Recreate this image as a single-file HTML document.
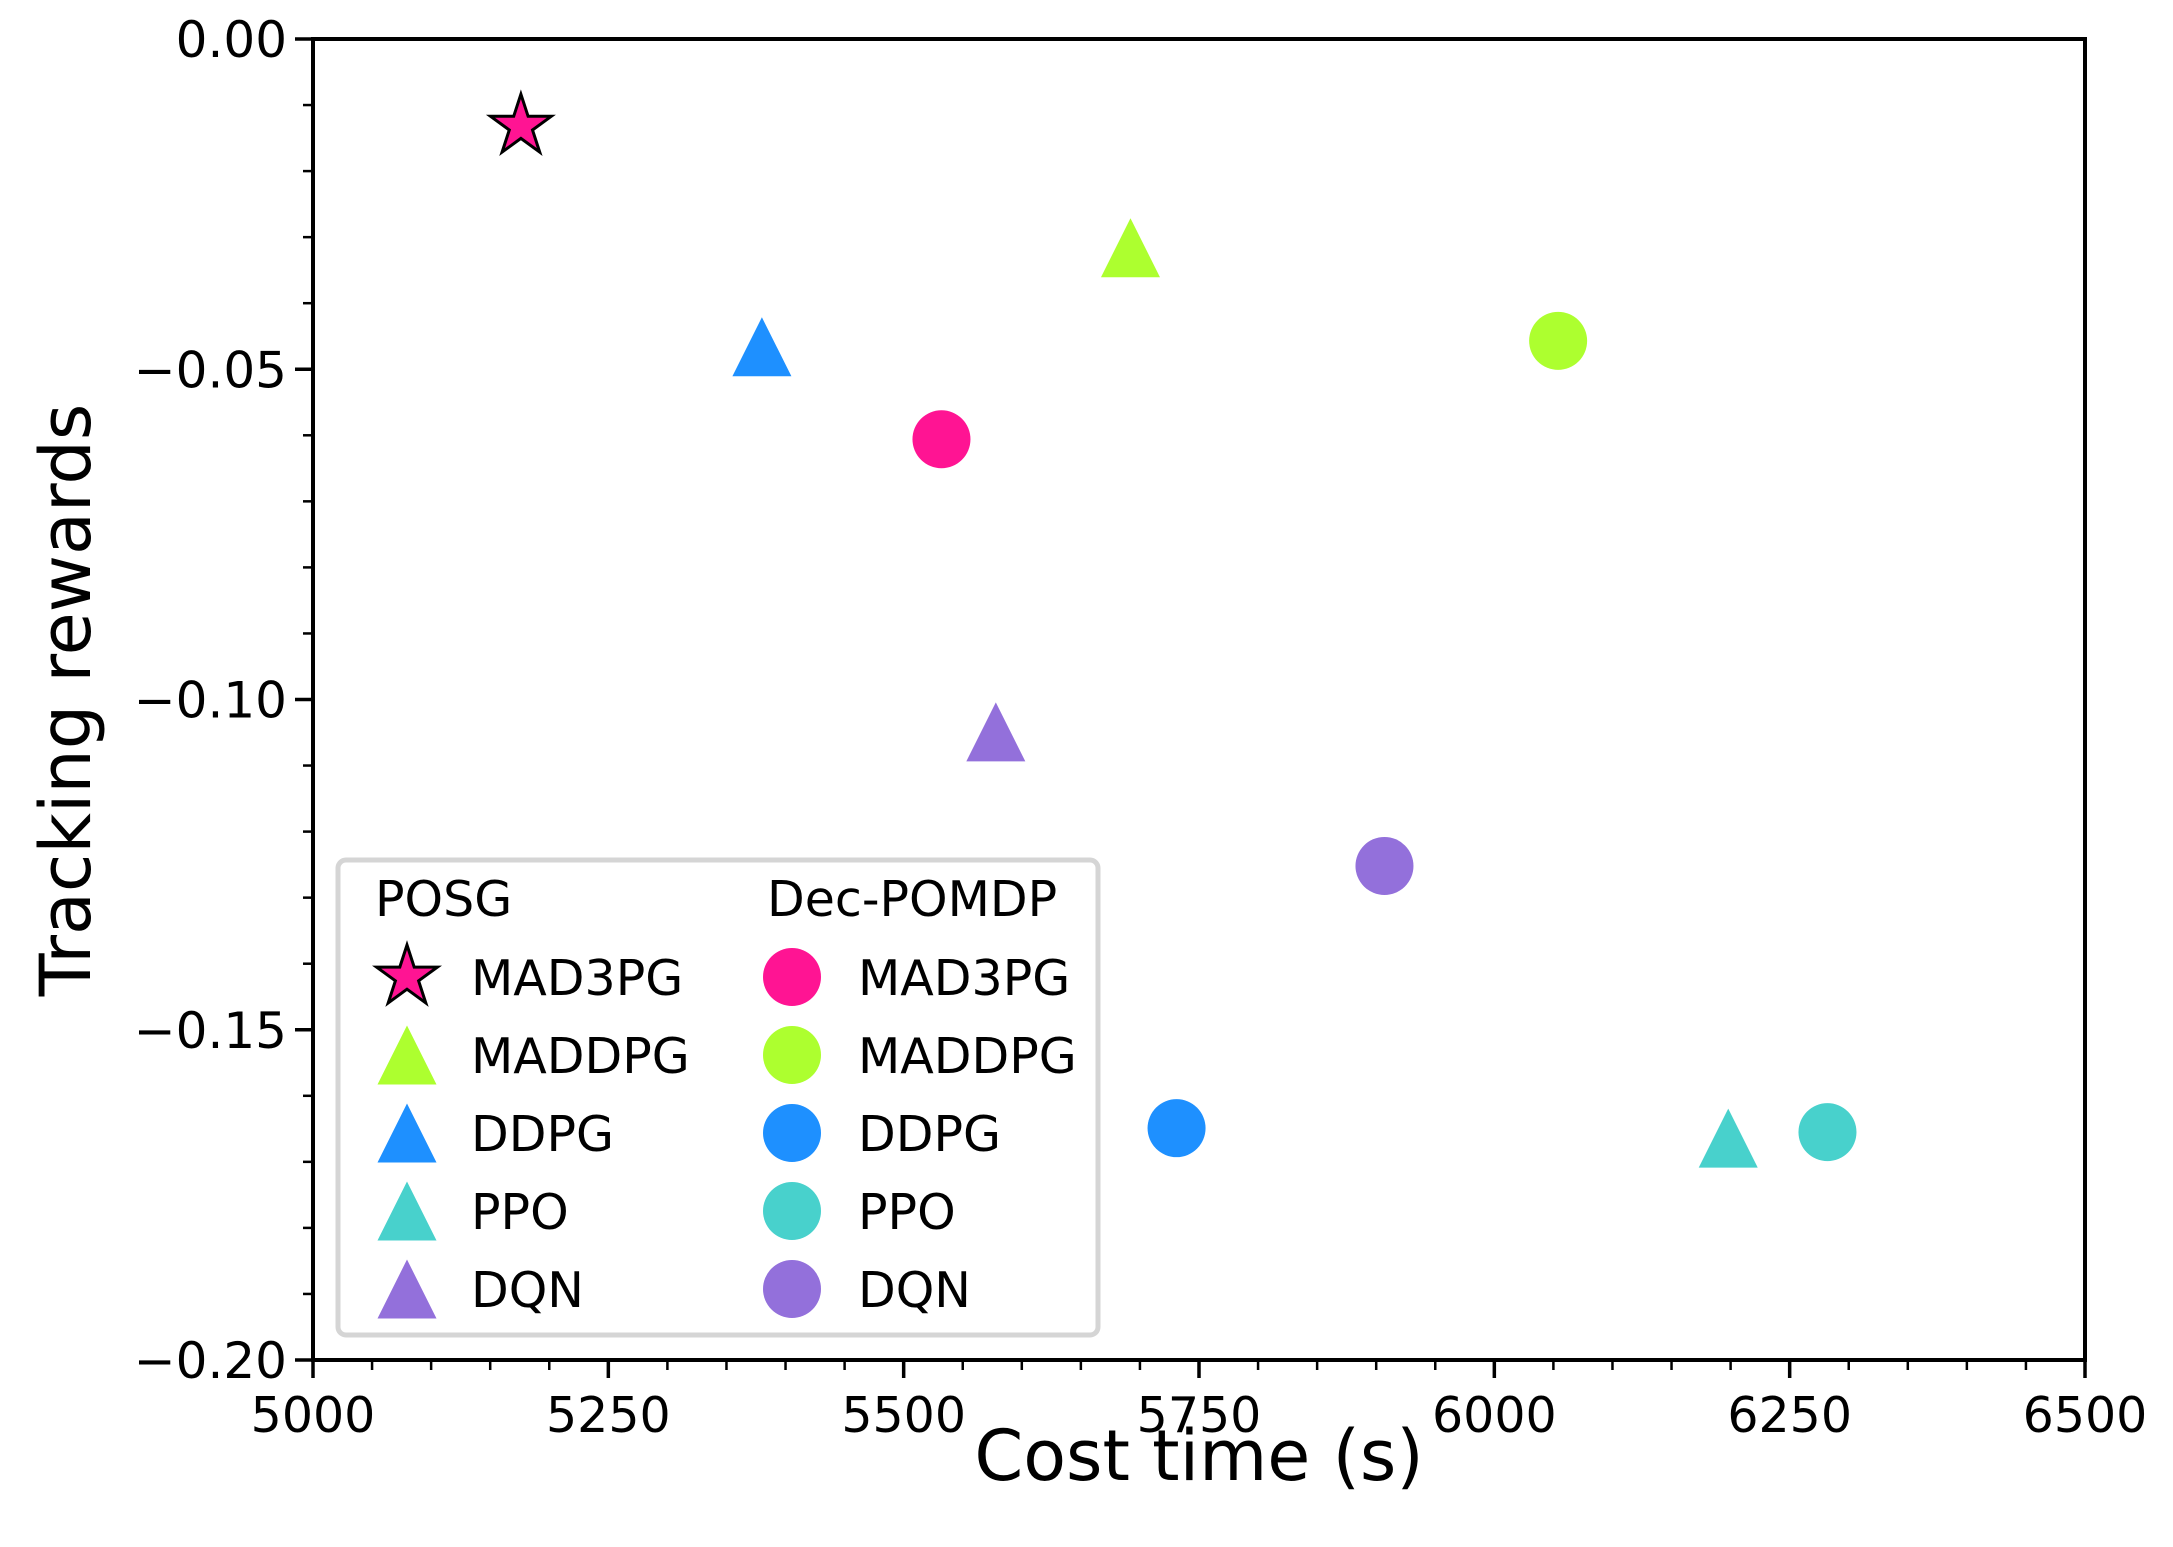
<!DOCTYPE html>
<html><head><meta charset="utf-8"><style>
html,body{margin:0;padding:0;background:#fff}
svg{display:block;font-family:"DejaVu Sans","Liberation Sans",sans-serif}
</style></head><body>
<svg id="chart" width="2173" height="1547" viewBox="0 0 2173 1547">
<g id="ticks"></g>
<g id="marks"></g>
<rect x="313" y="39" width="1772" height="1321" fill="none" stroke="#000" stroke-width="4"/>
<text x="1199" y="1480" font-size="70" text-anchor="middle">Cost time (s)</text>
<text transform="translate(90,700) rotate(-90)" font-size="70" text-anchor="middle">Tracking rewards</text>
<g id="legend">
<rect x="338" y="860" width="760" height="475" rx="8" fill="#fff" stroke="#d5d5d5" stroke-width="5"/>
<text x="375" y="916" font-size="49">POSG</text>
<text x="767" y="916" font-size="49">Dec-POMDP</text>
</g>
</svg>
<script>
const categories = ["MAD3PG","MADDPG","DDPG","PPO","DQN"];
const colors = ["#ff1493","#adff2f","#1e90ff","#48d1cc","#9370db"];
const posgX = [5176,5692,5380,6198,5578];
const posgY = [-0.0132,-0.0316,-0.0466,-0.1664,-0.1049];
const decX = [5532,6054,5731,6282,5907];
const decY = [-0.0606,-0.0457,-0.1649,-0.1655,-0.1252];
const xTicks = [5000,5250,5500,5750,6000,6250,6500];
const yTicks = [0,-0.05,-0.10,-0.15,-0.20];
const yTickLabels = ["0.00","\u22120.05","\u22120.10","\u22120.15","\u22120.20"];

const NS="http://www.w3.org/2000/svg";
const L=313,R=2085,T=39,B=1360;
const sx=v=>L+(v-5000)/1500*(R-L);
const sy=v=>T+(0-v)/0.2*(B-T);
function mk(tag,attrs,parent){const e=document.createElementNS(NS,tag);for(const k in attrs)e.setAttribute(k,attrs[k]);parent.appendChild(e);return e;}
const ticks=document.getElementById('ticks'),marks=document.getElementById('marks'),legend=document.getElementById('legend');
function starPts(cx,cy,r){let p=[];for(let i=0;i<10;i++){const a=-Math.PI/2+i*Math.PI/5;const rr=i%2?r*0.382:r;p.push((cx+rr*Math.cos(a)).toFixed(1)+','+(cy+rr*Math.sin(a)).toFixed(1));}return p.join(' ');}
function triPts(cx,cy,h){return `${cx},${cy-h/2} ${cx-h/2},${cy+h/2} ${cx+h/2},${cy+h/2}`;}

xTicks.forEach(v=>{
  const l=mk('line',{x1:sx(v),x2:sx(v),y1:B,y2:B+18,stroke:'#000','stroke-width':3.5},ticks);
  
  
  const t=mk('text',{x:sx(v),y:B+72,'font-size':49,'text-anchor':'middle'},ticks);
  t.textContent=v;
  
  
});
for(let v=5050;v<6500;v+=50){ if(v%250===0)continue;
  const l=mk('line',{x1:sx(v),x2:sx(v),y1:B,y2:B+10,stroke:'#000','stroke-width':2.5},ticks);
  
  
}
yTicks.forEach((v,i)=>{
  const l=mk('line',{x1:L-18,x2:L,y1:sy(v),y2:sy(v),stroke:'#000','stroke-width':3.5},ticks);
  
  
  const t=mk('text',{x:L-26,y:sy(v)+18,'font-size':50,'text-anchor':'end'},ticks);
  t.textContent=yTickLabels[i];
  
  
});
for(let k=1;k<20;k++){ if(k%5===0)continue;
  const l=mk('line',{x1:L-10,x2:L,y1:sy(-k*0.01),y2:sy(-k*0.01),stroke:'#000','stroke-width':2.5},ticks);
  
  
}
categories.forEach((c,i)=>{
  let m;
  if(i===0) m=mk('polygon',{points:starPts(sx(posgX[i]),sy(posgY[i]),32),fill:colors[i],stroke:'#000','stroke-width':3,'stroke-linejoin':'miter'},marks);
  else m=mk('polygon',{points:triPts(sx(posgX[i]),sy(posgY[i]),59),fill:colors[i]},marks);
  
  
  const d=mk('circle',{cx:sx(decX[i]),cy:sy(decY[i]),r:29,fill:colors[i]},marks);
  
  
  const y=977+i*78;
  let lm;
  if(i===0) lm=mk('polygon',{points:starPts(407,y,32),fill:colors[i],stroke:'#000','stroke-width':3},legend);
  else lm=mk('polygon',{points:triPts(407,y,59),fill:colors[i]},legend);
  
  
  const lt=mk('text',{x:471,y:y+18,'font-size':49},legend);
  lt.textContent=c;
  
  
  const lc=mk('circle',{cx:792,cy:y,r:29,fill:colors[i]},legend);
  
  
  const lt2=mk('text',{x:858,y:y+18,'font-size':49},legend);
  lt2.textContent=c;
  
  
});
</script>
</body></html>
